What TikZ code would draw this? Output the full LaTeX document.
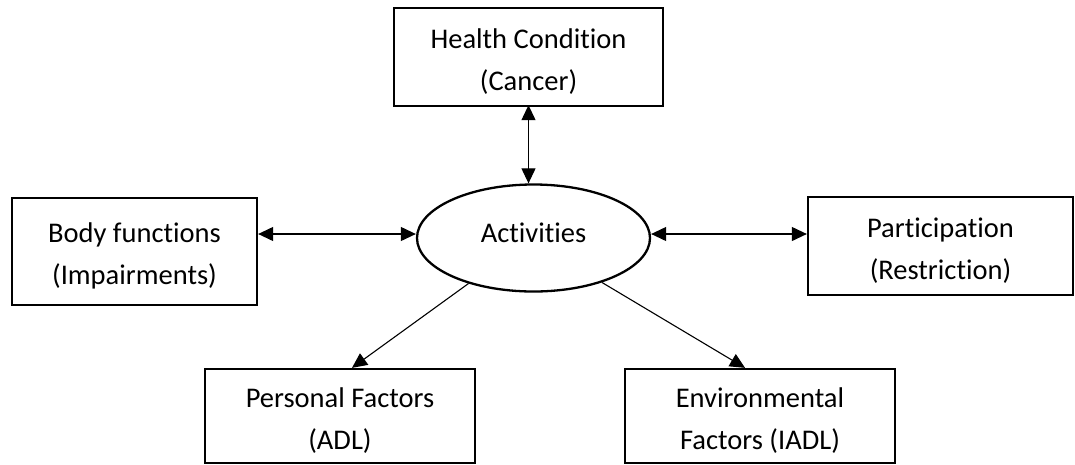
\documentclass[tikz,border=0pt]{standalone}
\usepackage{fontspec}
\setmainfont{Carlito}[RawFeature={-liga}]
\usetikzlibrary{shapes.geometric,arrows.meta}
\begin{document}
\begin{tikzpicture}[x=1pt,y=-1pt,
  box/.style={draw,line width=2.3pt,rectangle,inner sep=0pt,align=center,
    text height=72pt,text depth=6pt,
    font=\fontsize{28.5}{42}\selectfont},
  conn/.style={line width=1.1pt,{Triangle[length=15pt,width=14pt]}-{Triangle[length=15pt,width=14pt]}},
  oneway/.style={line width=1.1pt,-{Triangle[length=15pt,width=14pt]}}]
\useasboundingbox (0,0) rectangle (1075,464);
\node[box,minimum width=269pt,minimum height=98pt] (hc) at (528.5,57) {Health Condition\\(Cancer)};
\node[box,minimum width=245pt,minimum height=107pt] (bf) at (134.5,251.5) {Body functions\\(Impairments)};
\node[box,minimum width=265pt,minimum height=98pt] (pa) at (940.5,246) {Participation\\(Restriction)};
\node[box,minimum width=270pt,minimum height=94pt] (pf) at (340,416) {Personal Factors\\(ADL)};
\node[box,minimum width=270pt,minimum height=94pt] (ef) at (760,416) {Environmental\\Factors (IADL)};
\node[draw,ellipse,line width=2.3pt,inner sep=0pt,minimum width=233pt,minimum height=107pt,
  text height=20pt,text depth=12pt,
  font=\fontsize{28.5}{42}\selectfont] (act) at (533.5,238) {Activities};
\draw[conn] ([yshift=2pt]hc.south) -- (hc.south |- act.north);
\draw[conn] ([yshift=4pt]bf.east |- act.west) -- ([yshift=4pt]act.west);
\draw[conn] ([yshift=4pt]act.east) -- ([yshift=4pt]act.east -| pa.west);
\draw[oneway] (act.215) -- ([xshift=12pt]pf.north);
\draw[oneway] (act.327) -- ([xshift=-15pt]ef.north);
\end{tikzpicture}
\end{document}
